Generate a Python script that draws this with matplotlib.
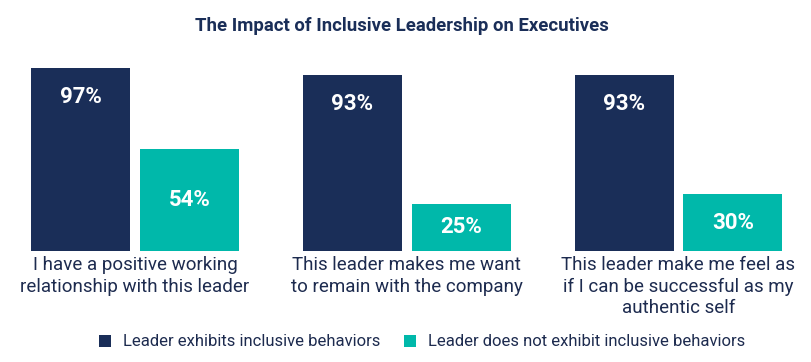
import matplotlib
matplotlib.use("Agg")
import matplotlib.pyplot as plt
from matplotlib.patches import Patch
from matplotlib.transforms import blended_transform_factory
import numpy as np

categories = [
    "I have a positive working\nrelationship with this leader",
    "This leader makes me want\nto remain with the company",
    "This leader make me feel as\nif I can be successful as my\nauthentic self",
]
series_names = ["Leader exhibits inclusive behaviors",
                "Leader does not exhibit inclusive behaviors"]
inclusive = [97, 93, 93]
not_inclusive = [54, 25, 30]
title = "The Impact of Inclusive Leadership on Executives"

NAVY = "#1a2e58"
TEAL = "#00b8aa"
TEXT = "#1d2b4f"
FONT = ["Roboto", "DejaVu Sans"]

W, H = 811, 362
fig = plt.figure(figsize=(W / 100, H / 100), dpi=100)
ax = fig.add_axes([0, (H - 251) / H, 1, 189 / H])

x = np.arange(len(categories))
width = 0.364
off = 0.2
b1 = ax.bar(x - off, inclusive, width, color=NAVY)
b2 = ax.bar(x + off, not_inclusive, width, color=TEAL)

ax.set_xlim(-0.4968, 2.4876)
ax.set_ylim(0, 100)
ax.axis("off")

for rect, v in zip(b1, inclusive):
    ax.annotate(f"{v}%", (rect.get_x() + rect.get_width() / 2, v),
                xytext=(0, -21), textcoords="offset points",
                ha="center", va="center", color="white",
                fontsize=16, fontweight="bold", family=FONT)
for rect, v in zip(b2, not_inclusive):
    ax.text(rect.get_x() + rect.get_width() / 2, v / 2, f"{v}%",
            ha="center", va="center", color="white",
            fontsize=16, fontweight="bold", family=FONT)

trans = blended_transform_factory(ax.transData, fig.transFigure)
for xi, lab in zip(x, categories):
    fig.text(xi, (H - 256) / H, lab, transform=trans, ha="center", va="top",
             fontsize=13.5, color=TEXT, family=FONT, linespacing=1.25)

fig.text(402 / W, (H - 26) / H, title, ha="center", va="center",
         fontsize=13.3, fontweight="bold", color=NAVY, family=FONT)

handles = [Patch(facecolor=NAVY), Patch(facecolor=TEAL)]
fig.legend(handles, series_names, loc="center", bbox_to_anchor=(422 / W, (H - 342) / H),
           ncol=2, frameon=False, prop={"family": FONT, "size": 12},
           handlelength=0.75, handleheight=0.75, handletextpad=0.7,
           columnspacing=1.4, labelcolor=TEXT)

fig.savefig("out.png", dpi=100)
